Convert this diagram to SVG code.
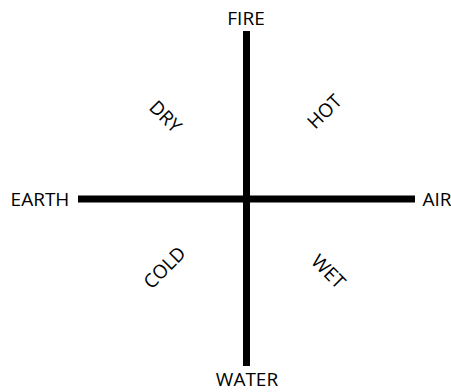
<svg xmlns="http://www.w3.org/2000/svg" width="451" height="392" viewBox="0 0 451 392">
<style>
.t{font-family:"Open Sans","Liberation Sans",sans-serif;font-size:19px;fill:#000;text-anchor:middle}
.ax{stroke:#000;stroke-width:7;fill:none}
</style>
<rect width="451" height="392" fill="#fff"/>
<g id="connectors">
<line class="ax" x1="246.5" y1="31" x2="246.5" y2="366"/>
<line class="ax" x1="78" y1="199" x2="415" y2="199"/>
</g>
<g id="fire"><text class="t" x="246" y="25">FIRE</text></g>
<g id="water"><text class="t" x="247" y="386">WATER</text></g>
<g id="earth"><text class="t" x="40" y="206">EARTH</text></g>
<g id="air"><text class="t" x="437" y="206">AIR</text></g>
<g id="dry"><text class="t" transform="translate(165,117) rotate(45)" y="6">DRY</text></g>
<g id="hot"><text class="t" transform="translate(325,112) rotate(-45)" y="6">HOT</text></g>
<g id="cold"><text class="t" transform="translate(165,268) rotate(-45)" y="6">COLD</text></g>
<g id="wet"><text class="t" transform="translate(328,272) rotate(45)" y="6">WET</text></g>
</svg>
